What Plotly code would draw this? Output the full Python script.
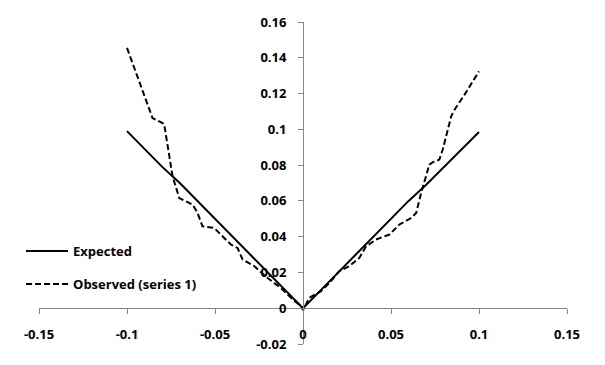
import plotly.graph_objects as go

# Expected series
exp_x = [-0.1, -0.09, -0.08, -0.07, -0.06, -0.05, -0.04, -0.03, -0.02, -0.01, 0.0,
         0.01, 0.02, 0.03, 0.04, 0.05, 0.06, 0.07, 0.08, 0.09, 0.1]
exp_y = [0.099, 0.089, 0.079, 0.070, 0.060, 0.050, 0.040, 0.030, 0.020, 0.010, 0.0,
         0.010, 0.020, 0.030, 0.040, 0.050, 0.060, 0.069, 0.079, 0.089, 0.0985]

# Observed (series 1)
obs_x = [-0.1, -0.0855, -0.0789, -0.0741, -0.0703, -0.0627, -0.0599, -0.0571, -0.0505,
         -0.041, -0.0372, -0.0343, -0.0277, -0.0201, -0.0125, -0.0068, -0.001, 0.0,
         0.0036, 0.0102, 0.015, 0.0206, 0.0263, 0.032, 0.0358, 0.0415, 0.0491, 0.0548,
         0.0614, 0.0643, 0.0671, 0.0718, 0.0738, 0.0775, 0.0794, 0.0842, 0.0861, 0.0918, 0.1]
obs_y = [0.1455, 0.1063, 0.1030, 0.0737, 0.0616, 0.0579, 0.0532, 0.0458, 0.0449,
         0.0356, 0.0337, 0.0272, 0.0235, 0.0169, 0.0113, 0.0058, 0.001, -0.001,
         0.0058, 0.0095, 0.0141, 0.0207, 0.0235, 0.0281, 0.0346, 0.0384, 0.0412, 0.0468,
         0.0504, 0.0532, 0.0644, 0.0803, 0.0816, 0.0831, 0.0887, 0.1073, 0.111, 0.1194, 0.1324]

x_ticks = [-0.15, -0.1, -0.05, 0, 0.05, 0.1, 0.15]
x_labels = ["-0.15", "-0.1", "-0.05", "0", "0.05", "0.1", "0.15"]
y_ticks = [-0.02, 0, 0.02, 0.04, 0.06, 0.08, 0.1, 0.12, 0.14, 0.16]
y_labels = ["-0.02", "0", "0.02", "0.04", "0.06", "0.08", "0.1", "0.12", "0.14", "0.16"]

x_range = [-0.15, 0.15]
y_range = [-0.02, 0.16]

axis_grey = "#868686"
tick_font = dict(family="Open Sans", size=13, color="black", weight="bold")

fig = go.Figure()
fig.add_trace(go.Scatter(x=exp_x, y=exp_y, mode="lines", name="Expected",
                         legendgroup="a",
                         line=dict(color="black", width=2)))
fig.add_trace(go.Scatter(x=obs_x, y=obs_y, mode="lines", name="Observed (series 1)",
                         legendgroup="b",
                         line=dict(color="black", width=2, dash="6px,3px")))

zero_frac = (0 - y_range[0]) / (y_range[1] - y_range[0])

fig.update_layout(
    width=605, height=365,
    margin=dict(l=31, r=46, t=14, b=29, autoexpand=False),
    paper_bgcolor="white", plot_bgcolor="white",
    showlegend=True,
    legend=dict(x=-0.034, y=0.335, xanchor="left", yanchor="top",
                font=dict(family="Open Sans", size=13, color="black", weight="bold"),
                bgcolor="rgba(0,0,0,0)", itemwidth=42, tracegroupgap=13),
    xaxis=dict(range=x_range, domain=[0, 1], anchor="free", position=zero_frac,
               showline=True, linecolor=axis_grey, linewidth=1,
               ticks="outside", ticklen=5, tickcolor=axis_grey, tickwidth=1,
               tickvals=x_ticks, showticklabels=False, automargin=False,
               showgrid=False, zeroline=False),
    xaxis2=dict(range=x_range, overlaying="x", anchor="free", position=0.06,
                side="bottom", showline=False, ticks="", automargin=False,
                tickvals=x_ticks, ticktext=x_labels, tickfont=tick_font,
                showgrid=False, zeroline=False),
    yaxis=dict(range=y_range, domain=[0, 1], anchor="free", position=0.5,
               showline=True, linecolor=axis_grey, linewidth=1,
               ticks="outside", ticklen=5, tickcolor=axis_grey, tickwidth=1,
               tickvals=y_ticks, ticktext=y_labels, tickfont=tick_font,
               ticklabelstandoff=9, automargin=False,
               showgrid=False, zeroline=False),
)
# invisible trace to activate xaxis2
fig.add_trace(go.Scatter(x=[x_range[0]], y=[y_range[0]], xaxis="x2", yaxis="y",
                         mode="markers", marker=dict(opacity=0), showlegend=False,
                         hoverinfo="skip"))

fig.write_html("out.html")
